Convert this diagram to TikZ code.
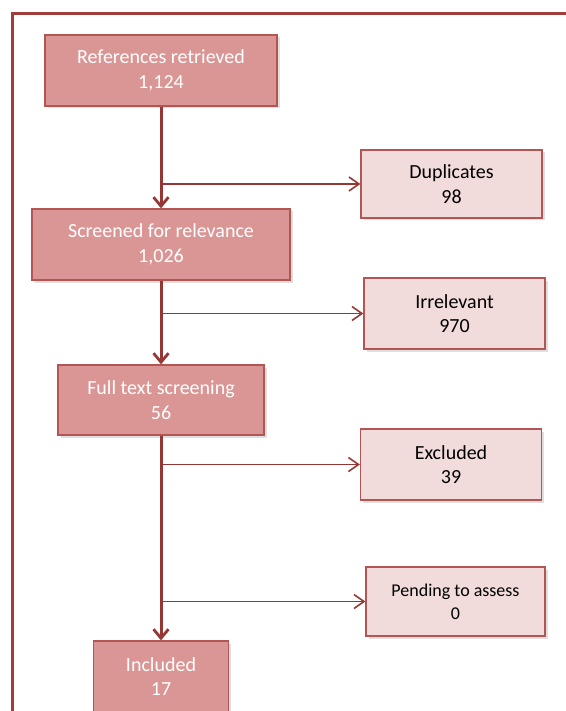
\documentclass[tikz,border=0pt]{standalone}
\usepackage{fontspec}
\setmainfont{Carlito}
\usetikzlibrary{arrows.meta,shadows}
\definecolor{boxred}{HTML}{D99694}
\definecolor{boxpink}{HTML}{F2DCDB}
\definecolor{edgered}{HTML}{B35653}
\definecolor{linered}{HTML}{953735}
\definecolor{framered}{HTML}{9E3D3A}

\begin{document}
\begin{tikzpicture}[x=1pt, y=-1pt,
  stagebox/.style={draw=edgered, line width=1.3pt, fill=boxred, text=white,
    inner sep=0pt, minimum height=71pt, align=center,
    font=\fontsize{20}{24.5}\selectfont,
    drop shadow={opacity=0.25, shadow xshift=2.5pt, shadow yshift=-2.5pt}},
  outbox/.style={stagebox, fill=boxpink, text=black, minimum width=181pt},
  mainarrow/.style={draw=linered, line width=3pt,
    -{Straight Barb[length=9pt, width=15pt, line width=2.8pt]}},
  sidearrow/.style={draw=linered, line width=1.8pt,
    -{Straight Barb[length=10pt, width=14pt, line width=1.6pt]}}]
 \useasboundingbox (0,0) rectangle (565,711);
 \draw[framered, line width=3pt] (12,711) -- (12,14) -- (566,14);

 \node[stagebox, minimum width=232pt] (refs) at (161,70.5) {References retrieved\\1,124};
 \node[stagebox, minimum width=258pt] (screen) at (161,244.5) {Screened for relevance\\1,026};
 \node[stagebox, minimum width=206pt, minimum height=70pt] (full) at (161,400) {Full text screening\\56};
 \node[stagebox, minimum width=135pt] (incl) at (161,676.5) {Included\\17};

 \node[outbox, minimum height=68pt] (dup) at (451.5,184) {Duplicates\\98};
 \node[outbox] (irr) at (454.5,313.5) {Irrelevant\\970};
 \node[outbox] (excl) at (451,464.5) {Excluded\\39};
 \node[outbox, minimum width=179pt, minimum height=69pt,
   font=\fontsize{18}{23}\selectfont] (pend) at (455.5,601.5) {Pending to assess\\0};

 \draw[sidearrow] (refs.south |- dup.west) -- (dup.west);
 \draw[sidearrow] (screen.south |- irr.west) -- (irr.west);
 \draw[sidearrow] (full.south |- excl.west) -- (excl.west);
 \draw[sidearrow] (full.south |- pend.west) -- (pend.west);

 \draw[mainarrow] (refs) -- (screen);
 \draw[mainarrow] (screen) -- (full);
 \draw[mainarrow] (full) -- (incl);
\end{tikzpicture}
\end{document}
